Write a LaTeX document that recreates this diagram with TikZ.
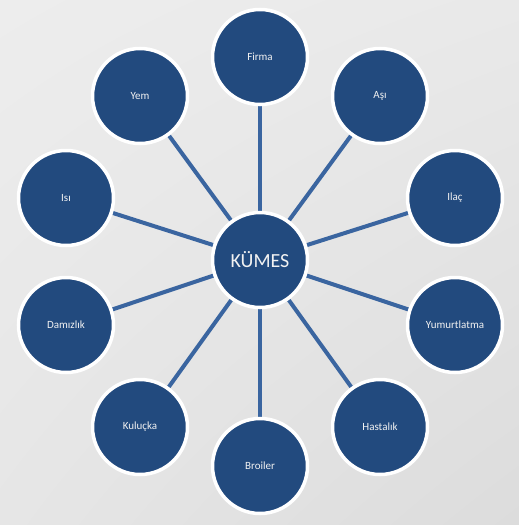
\documentclass[tikz,border=0pt]{standalone}
\usepackage{fontspec}
\setmainfont{Carlito}
\usetikzlibrary{backgrounds,shadings}
\definecolor{circblue}{HTML}{224A7E}
\definecolor{linkblue}{HTML}{3A65A0}
\definecolor{txtwhite}{HTML}{F2F2F2}
\definecolor{bgul}{HTML}{EDEDED}
\definecolor{bgur}{HTML}{E9E9E9}
\definecolor{bgll}{HTML}{E6E6E6}
\definecolor{bglr}{HTML}{DCDCDC}
\tikzset{
  leaf/.style={circle, fill=circblue, draw=white, line width=3.5pt, minimum size=95pt, inner sep=0pt, text=txtwhite, font=\fontsize{11}{13}\selectfont},
  hub/.style={leaf, font=\fontsize{20}{24}\selectfont},
  link/.style={draw=linkblue, line width=4pt}
}
\begin{document}
\begin{tikzpicture}[x=1pt,y=-1pt]
\useasboundingbox (0,0) rectangle (519,525);
\node[hub] (c) at (260,260) {KÜMES};
\node[leaf] (firma) at (260,57) {Firma};
\node[leaf] (asi) at (380,96) {Aşı};
\node[leaf] (ilac) at (455,198) {Ilaç};
\node[leaf] (yum) at (455,325) {Yumurtlatma};
\node[leaf] (hast) at (380,427) {Hastalık};
\node[leaf] (broi) at (260,466) {Broiler};
\node[leaf] (kulu) at (140,427) {Kuluçka};
\node[leaf] (dami) at (66,325) {Damızlık};
\node[leaf] (isi) at (66,198) {Isı};
\node[leaf] (yem) at (140,96) {Yem};
\begin{pgfonlayer}{background}
  \shade[upper left=bgul, upper right=bgur, lower left=bgll, lower right=bglr]
        (0,0) rectangle (519,525);
  \foreach \n in {firma,asi,ilac,yum,hast,broi,kulu,dami,isi,yem}
    \draw[link] (c) -- (\n);
\end{pgfonlayer}
\end{tikzpicture}
\end{document}
